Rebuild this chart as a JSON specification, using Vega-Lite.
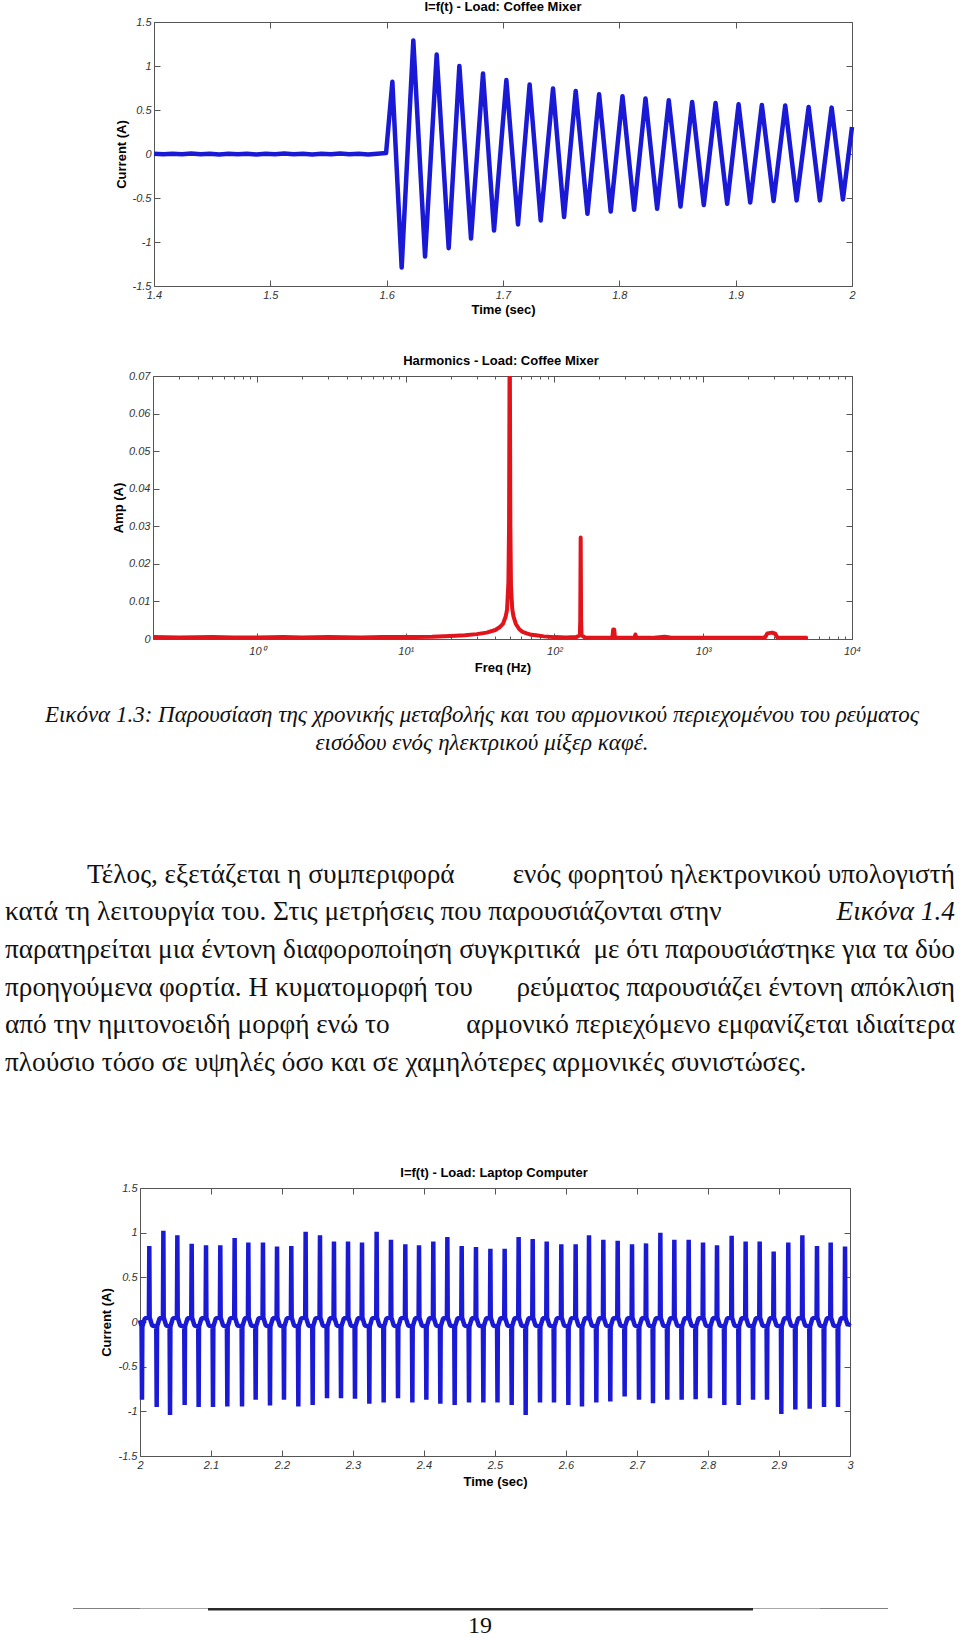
{
"$schema": "https://vega.github.io/schema/vega-lite/v6.json",
"padding": 0,
"spacing": 0,
"bounds": "flush",
"config": {
  "view": {"stroke": null},
  "font": "Liberation Sans",
  "axis": {"grid": false, "labelFont": "Liberation Sans", "labelFontStyle": "italic", "labelFontSize": 11, "labelColor": "#333333", "titleFont": "Liberation Sans", "titleFontWeight": "bold", "titleFontSize": 13, "titleColor": "#000000", "domainColor": "#555555", "tickColor": "#555555", "labelFlush": false, "labelOverlap": false},
  "title": {"font": "Liberation Sans", "fontWeight": "bold", "fontSize": 13, "color": "#000000", "offset": 2, "frame": "group"}
},
"datasets": {
"mixer": [
{"t":1.400,"i":0.003},{"t":1.408,"i":-0.004},{"t":1.416,"i":0.004},{"t":1.424,"i":-0.003},{"t":1.432,"i":0.005},{"t":1.440,"i":-0.004},{"t":1.448,"i":0.002},{"t":1.456,"i":-0.005},{"t":1.464,"i":0.004},{"t":1.472,"i":-0.002},{"t":1.480,"i":0.004},{"t":1.488,"i":-0.005},{"t":1.496,"i":0.003},{"t":1.504,"i":-0.003},{"t":1.512,"i":0.005},{"t":1.520,"i":-0.004},{"t":1.528,"i":0.003},{"t":1.536,"i":-0.005},{"t":1.544,"i":0.004},{"t":1.552,"i":-0.002},{"t":1.560,"i":0.005},{"t":1.568,"i":-0.004},{"t":1.576,"i":0.003},{"t":1.584,"i":-0.005},{"t":1.592,"i":0.004},{"t":1.5995,"i":0.01},
{"t":1.6049,"i":0.82},{"t":1.6129,"i":-1.29},{"t":1.6229,"i":1.29},{"t":1.6330,"i":-1.165},{"t":1.6430,"i":1.13},{"t":1.6533,"i":-1.07},{"t":1.6625,"i":1.0},{"t":1.6725,"i":-0.96},{"t":1.6828,"i":0.915},{"t":1.6923,"i":-0.87},{"t":1.7029,"i":0.84},{"t":1.7129,"i":-0.80},{"t":1.7229,"i":0.79},{"t":1.7324,"i":-0.755},{"t":1.7430,"i":0.744},{"t":1.7525,"i":-0.717},{"t":1.7625,"i":0.717},{"t":1.7726,"i":-0.68},{"t":1.7826,"i":0.68},{"t":1.7926,"i":-0.653},{"t":1.8027,"i":0.657},{"t":1.8127,"i":-0.634},{"t":1.8225,"i":0.63},{"t":1.8325,"i":-0.622},{"t":1.8425,"i":0.61},{"t":1.8526,"i":-0.596},{"t":1.8626,"i":0.59},{"t":1.8726,"i":-0.58},{"t":1.8827,"i":0.58},{"t":1.8927,"i":-0.565},{"t":1.9025,"i":0.565},{"t":1.9125,"i":-0.55},{"t":1.9225,"i":0.558},{"t":1.9326,"i":-0.535},{"t":1.9426,"i":0.55},{"t":1.9524,"i":-0.527},{"t":1.9627,"i":0.535},{"t":1.9724,"i":-0.527},{"t":1.9825,"i":0.527},{"t":1.9922,"i":-0.516},{"t":2.0,"i":0.307}
],
"spectrum": [
{"f":0.2,"a":0.0005},{"f":0.3,"a":0.0004},{"f":0.5,"a":0.0005},{"f":0.7,"a":0.0004},{"f":1,"a":0.0004},{"f":1.5,"a":0.0005},{"f":2,"a":0.0004},{"f":3,"a":0.0005},{"f":5,"a":0.0004},{"f":7,"a":0.0005},{"f":10,"a":0.0005},{"f":15,"a":0.0006},{"f":20,"a":0.0008},{"f":25,"a":0.001},{"f":30,"a":0.0013},{"f":35,"a":0.0017},{"f":40,"a":0.0024},{"f":43,"a":0.0032},{"f":45,"a":0.004},{"f":47,"a":0.006},{"f":48,"a":0.0078},{"f":49,"a":0.015},{"f":49.5,"a":0.03},{"f":50,"a":0.085},{"f":50.5,"a":0.03},{"f":51,"a":0.014},{"f":52,"a":0.008},{"f":53,"a":0.006},{"f":55,"a":0.004},{"f":58,"a":0.0026},{"f":61,"a":0.0019},{"f":65,"a":0.0015},{"f":70,"a":0.0011},{"f":75,"a":0.001},{"f":85,"a":0.0007},{"f":100,"a":0.0005},{"f":120,"a":0.0004},{"f":140,"a":0.0005},{"f":148,"a":0.001},{"f":149,"a":0.005},{"f":150,"a":0.027},{"f":151,"a":0.005},{"f":152,"a":0.001},{"f":160,"a":0.0004},{"f":200,"a":0.0003},{"f":245,"a":0.0004},{"f":248,"a":0.0025},{"f":252,"a":0.0025},{"f":255,"a":0.0004},{"f":300,"a":0.0003},{"f":345,"a":0.0004},{"f":350,"a":0.0012},{"f":355,"a":0.0004},{"f":450,"a":0.0003},{"f":550,"a":0.0006},{"f":600,"a":0.0004},{"f":800,"a":0.0003},{"f":1000,"a":0.0003},{"f":1500,"a":0.0003},{"f":2000,"a":0.0003},{"f":2600,"a":0.0004},{"f":2700,"a":0.0015},{"f":2900,"a":0.0017},{"f":3050,"a":0.0014},{"f":3150,"a":0.0004},{"f":4000,"a":0.0003},{"f":5000,"a":0.0003}
],
"laptop": [
{"t":2.0,"i":0.02},
{"t":2.0022,"i":-0.05},{"t":2.0028,"i":-0.87},{"t":2.0033,"i":-0.05},{"t":2.0068,"i":0.04},
{"t":2.0125,"i":0.05},{"t":2.0131,"i":0.85},{"t":2.0136,"i":0.05},{"t":2.0171,"i":-0.04},
{"t":2.0229,"i":-0.05},{"t":2.0235,"i":-0.95},{"t":2.0240,"i":-0.05},{"t":2.0275,"i":0.04},
{"t":2.0323,"i":0.05},{"t":2.0329,"i":1.02},{"t":2.0334,"i":0.05},{"t":2.0369,"i":-0.04},
{"t":2.0417,"i":-0.05},{"t":2.0423,"i":-1.04},{"t":2.0428,"i":-0.05},{"t":2.0463,"i":0.04},
{"t":2.0520,"i":0.05},{"t":2.0526,"i":0.97},{"t":2.0531,"i":0.05},{"t":2.0566,"i":-0.04},
{"t":2.0623,"i":-0.05},{"t":2.0629,"i":-0.93},{"t":2.0634,"i":-0.05},{"t":2.0669,"i":0.04},
{"t":2.0722,"i":0.05},{"t":2.0728,"i":0.875},{"t":2.0733,"i":0.05},{"t":2.0768,"i":-0.04},
{"t":2.0820,"i":-0.05},{"t":2.0826,"i":-0.95},{"t":2.0831,"i":-0.05},{"t":2.0866,"i":0.04},
{"t":2.0924,"i":0.05},{"t":2.0930,"i":0.86},{"t":2.0935,"i":0.05},{"t":2.0970,"i":-0.04},
{"t":2.1022,"i":-0.05},{"t":2.1028,"i":-0.95},{"t":2.1033,"i":-0.05},{"t":2.1068,"i":0.04},
{"t":2.1125,"i":0.05},{"t":2.1131,"i":0.86},{"t":2.1136,"i":0.05},{"t":2.1171,"i":-0.04},
{"t":2.1224,"i":-0.05},{"t":2.1230,"i":-0.946},{"t":2.1235,"i":-0.05},{"t":2.1270,"i":0.04},
{"t":2.1327,"i":0.05},{"t":2.1333,"i":0.94},{"t":2.1338,"i":0.05},{"t":2.1373,"i":-0.04},
{"t":2.1431,"i":-0.05},{"t":2.1437,"i":-0.946},{"t":2.1442,"i":-0.05},{"t":2.1477,"i":0.04},
{"t":2.1520,"i":0.05},{"t":2.1526,"i":0.89},{"t":2.1531,"i":0.05},{"t":2.1566,"i":-0.04},
{"t":2.1623,"i":-0.05},{"t":2.1629,"i":-0.87},{"t":2.1634,"i":-0.05},{"t":2.1669,"i":0.04},
{"t":2.1726,"i":0.05},{"t":2.1732,"i":0.89},{"t":2.1737,"i":0.05},{"t":2.1772,"i":-0.04},
{"t":2.1825,"i":-0.05},{"t":2.1831,"i":-0.935},{"t":2.1836,"i":-0.05},{"t":2.1871,"i":0.04},
{"t":2.1924,"i":0.05},{"t":2.1930,"i":0.845},{"t":2.1935,"i":0.05},{"t":2.1970,"i":-0.04},
{"t":2.2022,"i":-0.05},{"t":2.2028,"i":-0.87},{"t":2.2033,"i":-0.05},{"t":2.2068,"i":0.04},
{"t":2.2125,"i":0.05},{"t":2.2131,"i":0.85},{"t":2.2136,"i":0.05},{"t":2.2171,"i":-0.04},
{"t":2.2224,"i":-0.05},{"t":2.2230,"i":-0.946},{"t":2.2235,"i":-0.05},{"t":2.2270,"i":0.04},
{"t":2.2327,"i":0.05},{"t":2.2333,"i":1.01},{"t":2.2338,"i":0.05},{"t":2.2373,"i":-0.04},
{"t":2.2426,"i":-0.05},{"t":2.2432,"i":-0.93},{"t":2.2437,"i":-0.05},{"t":2.2472,"i":0.04},
{"t":2.2529,"i":0.05},{"t":2.2535,"i":0.97},{"t":2.2540,"i":0.05},{"t":2.2575,"i":-0.04},
{"t":2.2628,"i":-0.05},{"t":2.2634,"i":-0.853},{"t":2.2639,"i":-0.05},{"t":2.2674,"i":0.04},
{"t":2.2726,"i":0.05},{"t":2.2732,"i":0.9},{"t":2.2737,"i":0.05},{"t":2.2772,"i":-0.04},
{"t":2.2825,"i":-0.05},{"t":2.2831,"i":-0.853},{"t":2.2836,"i":-0.05},{"t":2.2871,"i":0.04},
{"t":2.2924,"i":0.05},{"t":2.2930,"i":0.9},{"t":2.2935,"i":0.05},{"t":2.2970,"i":-0.04},
{"t":2.3022,"i":-0.05},{"t":2.3028,"i":-0.86},{"t":2.3033,"i":-0.05},{"t":2.3068,"i":0.04},
{"t":2.3121,"i":0.05},{"t":2.3127,"i":0.89},{"t":2.3132,"i":0.05},{"t":2.3167,"i":-0.04},
{"t":2.3224,"i":-0.05},{"t":2.3230,"i":-0.916},{"t":2.3235,"i":-0.05},{"t":2.3270,"i":0.04},
{"t":2.3327,"i":0.05},{"t":2.3333,"i":1.01},{"t":2.3338,"i":0.05},{"t":2.3373,"i":-0.04},
{"t":2.3426,"i":-0.05},{"t":2.3432,"i":-0.9},{"t":2.3437,"i":-0.05},{"t":2.3472,"i":0.04},
{"t":2.3529,"i":0.05},{"t":2.3535,"i":0.92},{"t":2.3540,"i":0.05},{"t":2.3575,"i":-0.04},
{"t":2.3628,"i":-0.05},{"t":2.3634,"i":-0.853},{"t":2.3639,"i":-0.05},{"t":2.3674,"i":0.04},
{"t":2.3731,"i":0.05},{"t":2.3737,"i":0.87},{"t":2.3742,"i":0.05},{"t":2.3777,"i":-0.04},
{"t":2.3830,"i":-0.05},{"t":2.3836,"i":-0.9},{"t":2.3841,"i":-0.05},{"t":2.3876,"i":0.04},
{"t":2.3924,"i":0.05},{"t":2.3930,"i":0.86},{"t":2.3935,"i":0.05},{"t":2.3970,"i":-0.04},
{"t":2.4027,"i":-0.05},{"t":2.4033,"i":-0.87},{"t":2.4038,"i":-0.05},{"t":2.4073,"i":0.04},
{"t":2.4125,"i":0.05},{"t":2.4131,"i":0.9},{"t":2.4136,"i":0.05},{"t":2.4171,"i":-0.04},
{"t":2.4224,"i":-0.05},{"t":2.4230,"i":-0.916},{"t":2.4235,"i":-0.05},{"t":2.4270,"i":0.04},
{"t":2.4323,"i":0.05},{"t":2.4329,"i":0.95},{"t":2.4334,"i":0.05},{"t":2.4369,"i":-0.04},
{"t":2.4426,"i":-0.05},{"t":2.4432,"i":-0.93},{"t":2.4437,"i":-0.05},{"t":2.4472,"i":0.04},
{"t":2.4525,"i":0.05},{"t":2.4531,"i":0.85},{"t":2.4536,"i":0.05},{"t":2.4571,"i":-0.04},
{"t":2.4628,"i":-0.05},{"t":2.4634,"i":-0.9},{"t":2.4639,"i":-0.05},{"t":2.4674,"i":0.04},
{"t":2.4726,"i":0.05},{"t":2.4732,"i":0.84},{"t":2.4737,"i":0.05},{"t":2.4772,"i":-0.04},
{"t":2.4830,"i":-0.05},{"t":2.4836,"i":-0.9},{"t":2.4841,"i":-0.05},{"t":2.4876,"i":0.04},
{"t":2.4929,"i":0.05},{"t":2.4935,"i":0.82},{"t":2.4940,"i":0.05},{"t":2.4975,"i":-0.04},
{"t":2.5029,"i":-0.05},{"t":2.5035,"i":-0.9},{"t":2.5040,"i":-0.05},{"t":2.5075,"i":0.04},
{"t":2.5130,"i":0.05},{"t":2.5136,"i":0.82},{"t":2.5141,"i":0.05},{"t":2.5176,"i":-0.04},
{"t":2.5229,"i":-0.05},{"t":2.5235,"i":-0.93},{"t":2.5240,"i":-0.05},{"t":2.5275,"i":0.04},
{"t":2.5327,"i":0.05},{"t":2.5333,"i":0.95},{"t":2.5338,"i":0.05},{"t":2.5373,"i":-0.04},
{"t":2.5426,"i":-0.05},{"t":2.5432,"i":-1.04},{"t":2.5437,"i":-0.05},{"t":2.5472,"i":0.04},
{"t":2.5525,"i":0.05},{"t":2.5531,"i":0.93},{"t":2.5536,"i":0.05},{"t":2.5571,"i":-0.04},
{"t":2.5628,"i":-0.05},{"t":2.5634,"i":-0.9},{"t":2.5639,"i":-0.05},{"t":2.5674,"i":0.04},
{"t":2.5722,"i":0.05},{"t":2.5728,"i":0.9},{"t":2.5733,"i":0.05},{"t":2.5768,"i":-0.04},
{"t":2.5825,"i":-0.05},{"t":2.5831,"i":-0.9},{"t":2.5836,"i":-0.05},{"t":2.5871,"i":0.04},
{"t":2.5928,"i":0.05},{"t":2.5934,"i":0.87},{"t":2.5939,"i":0.05},{"t":2.5974,"i":-0.04},
{"t":2.6027,"i":-0.05},{"t":2.6033,"i":-0.93},{"t":2.6038,"i":-0.05},{"t":2.6073,"i":0.04},
{"t":2.6130,"i":0.05},{"t":2.6136,"i":0.87},{"t":2.6141,"i":0.05},{"t":2.6176,"i":-0.04},
{"t":2.6219,"i":-0.05},{"t":2.6225,"i":-0.946},{"t":2.6230,"i":-0.05},{"t":2.6265,"i":0.04},
{"t":2.6318,"i":0.05},{"t":2.6324,"i":0.97},{"t":2.6329,"i":0.05},{"t":2.6364,"i":-0.04},
{"t":2.6421,"i":-0.05},{"t":2.6427,"i":-0.9},{"t":2.6432,"i":-0.05},{"t":2.6467,"i":0.04},
{"t":2.6520,"i":0.05},{"t":2.6526,"i":0.92},{"t":2.6531,"i":0.05},{"t":2.6566,"i":-0.04},
{"t":2.6618,"i":-0.05},{"t":2.6624,"i":-0.89},{"t":2.6629,"i":-0.05},{"t":2.6664,"i":0.04},
{"t":2.6722,"i":0.05},{"t":2.6728,"i":0.91},{"t":2.6733,"i":0.05},{"t":2.6768,"i":-0.04},
{"t":2.6820,"i":-0.05},{"t":2.6826,"i":-0.834},{"t":2.6831,"i":-0.05},{"t":2.6866,"i":0.04},
{"t":2.6924,"i":0.05},{"t":2.6930,"i":0.87},{"t":2.6935,"i":0.05},{"t":2.6970,"i":-0.04},
{"t":2.7022,"i":-0.05},{"t":2.7028,"i":-0.87},{"t":2.7033,"i":-0.05},{"t":2.7068,"i":0.04},
{"t":2.7121,"i":0.05},{"t":2.7127,"i":0.88},{"t":2.7132,"i":0.05},{"t":2.7167,"i":-0.04},
{"t":2.7219,"i":-0.05},{"t":2.7225,"i":-0.91},{"t":2.7230,"i":-0.05},{"t":2.7265,"i":0.04},
{"t":2.7323,"i":0.05},{"t":2.7329,"i":1.0},{"t":2.7334,"i":0.05},{"t":2.7369,"i":-0.04},
{"t":2.7421,"i":-0.05},{"t":2.7427,"i":-0.87},{"t":2.7432,"i":-0.05},{"t":2.7467,"i":0.04},
{"t":2.7520,"i":0.05},{"t":2.7526,"i":0.92},{"t":2.7531,"i":0.05},{"t":2.7566,"i":-0.04},
{"t":2.7623,"i":-0.05},{"t":2.7629,"i":-0.87},{"t":2.7634,"i":-0.05},{"t":2.7669,"i":0.04},
{"t":2.7722,"i":0.05},{"t":2.7728,"i":0.92},{"t":2.7733,"i":0.05},{"t":2.7768,"i":-0.04},
{"t":2.7820,"i":-0.05},{"t":2.7826,"i":-0.864},{"t":2.7831,"i":-0.05},{"t":2.7866,"i":0.04},
{"t":2.7924,"i":0.05},{"t":2.7930,"i":0.89},{"t":2.7935,"i":0.05},{"t":2.7970,"i":-0.04},
{"t":2.8022,"i":-0.05},{"t":2.8028,"i":-0.853},{"t":2.8033,"i":-0.05},{"t":2.8068,"i":0.04},
{"t":2.8121,"i":0.05},{"t":2.8127,"i":0.86},{"t":2.8132,"i":0.05},{"t":2.8167,"i":-0.04},
{"t":2.8224,"i":-0.05},{"t":2.8230,"i":-0.93},{"t":2.8235,"i":-0.05},{"t":2.8270,"i":0.04},
{"t":2.8327,"i":0.05},{"t":2.8333,"i":0.965},{"t":2.8338,"i":0.05},{"t":2.8373,"i":-0.04},
{"t":2.8426,"i":-0.05},{"t":2.8432,"i":-0.93},{"t":2.8437,"i":-0.05},{"t":2.8472,"i":0.04},
{"t":2.8524,"i":0.05},{"t":2.8530,"i":0.9},{"t":2.8535,"i":0.05},{"t":2.8570,"i":-0.04},
{"t":2.8628,"i":-0.05},{"t":2.8634,"i":-0.87},{"t":2.8639,"i":-0.05},{"t":2.8674,"i":0.04},
{"t":2.8722,"i":0.05},{"t":2.8728,"i":0.9},{"t":2.8733,"i":0.05},{"t":2.8768,"i":-0.04},
{"t":2.8825,"i":-0.05},{"t":2.8831,"i":-0.87},{"t":2.8836,"i":-0.05},{"t":2.8871,"i":0.04},
{"t":2.8919,"i":0.05},{"t":2.8925,"i":0.79},{"t":2.8930,"i":0.05},{"t":2.8965,"i":-0.04},
{"t":2.9027,"i":-0.05},{"t":2.9033,"i":-1.03},{"t":2.9038,"i":-0.05},{"t":2.9073,"i":0.04},
{"t":2.9125,"i":0.05},{"t":2.9131,"i":0.89},{"t":2.9136,"i":0.05},{"t":2.9171,"i":-0.04},
{"t":2.9224,"i":-0.05},{"t":2.9230,"i":-0.98},{"t":2.9235,"i":-0.05},{"t":2.9270,"i":0.04},
{"t":2.9323,"i":0.05},{"t":2.9329,"i":0.97},{"t":2.9334,"i":0.05},{"t":2.9369,"i":-0.04},
{"t":2.9426,"i":-0.05},{"t":2.9432,"i":-0.97},{"t":2.9437,"i":-0.05},{"t":2.9472,"i":0.04},
{"t":2.9529,"i":0.05},{"t":2.9535,"i":0.85},{"t":2.9540,"i":0.05},{"t":2.9575,"i":-0.04},
{"t":2.9628,"i":-0.05},{"t":2.9634,"i":-0.95},{"t":2.9639,"i":-0.05},{"t":2.9674,"i":0.04},
{"t":2.9722,"i":0.05},{"t":2.9728,"i":0.89},{"t":2.9733,"i":0.05},{"t":2.9768,"i":-0.04},
{"t":2.9825,"i":-0.05},{"t":2.9831,"i":-0.95},{"t":2.9836,"i":-0.05},{"t":2.9871,"i":0.04},
{"t":2.9924,"i":0.05},{"t":2.9930,"i":0.845},{"t":2.9935,"i":0.05},{"t":2.9970,"i":-0.04},
{"t":3.0,"i":-0.01}
]
},
"vconcat": [
{"width": 1, "height": 22, "data": {"values": []}, "mark": "point"},
{
  "width": 852, "height": 264,
  "title": {"text": "I=f(t) - Load: Coffee Mixer", "dx": 77},
  "layer": [
    {"data": {"name": "mixer"},
     "mark": {"type": "line", "color": "#1a1ad6", "strokeWidth": 4.5, "strokeJoin": "round"},
     "encoding": {
       "x": {"field": "t", "type": "quantitative", "scale": {"domain": [1.4, 2], "range": [154, 852], "nice": false, "zero": false},
             "axis": {"orient": "bottom", "values": [1.4, 1.5, 1.6, 1.7, 1.8, 1.9, 2], "labelExpr": "'' + datum.value", "ticks": false, "labelPadding": 3, "title": "Time (sec)", "titleY": 23, "titleBaseline": "middle"}},
       "y": {"field": "i", "type": "quantitative", "scale": {"domain": [-1.5, 1.5], "nice": false, "zero": false},
             "axis": {"orient": "left", "offset": -154, "values": [-1.5, -1, -0.5, 0, 0.5, 1, 1.5], "labelExpr": "'' + datum.value", "ticks": false, "labelPadding": 3, "title": "Current (A)", "titleX": -33, "titleBaseline": "middle"}}
     }},
    {"data": {"values": []}, "mark": "point",
     "encoding": {
       "x": {"field": "t", "type": "quantitative", "scale": {"domain": [1.4, 2], "range": [154, 852], "nice": false, "zero": false},
             "axis": {"orient": "top", "values": [1.4, 1.5, 1.6, 1.7, 1.8, 1.9, 2], "labels": false, "tickSize": -6, "title": null}},
       "y": {"field": "i", "type": "quantitative", "scale": {"domain": [-1.5, 1.5], "nice": false, "zero": false},
             "axis": {"orient": "right", "values": [-1.5, -1, -0.5, 0, 0.5, 1, 1.5], "labels": false, "tickSize": -6, "title": null}}
     }},
    {"data": {"values": []}, "mark": "point",
     "encoding": {
       "x": {"field": "t", "type": "quantitative", "scale": {"domain": [1.4, 2], "range": [154, 852], "nice": false, "zero": false},
             "axis": {"orient": "bottom", "values": [1.4, 1.5, 1.6, 1.7, 1.8, 1.9, 2], "labels": false, "domain": false, "tickSize": -6, "title": null}},
       "y": {"field": "i", "type": "quantitative", "scale": {"domain": [-1.5, 1.5], "nice": false, "zero": false},
             "axis": {"orient": "left", "offset": -154, "values": [-1.5, -1, -0.5, 0, 0.5, 1, 1.5], "labels": false, "domain": false, "tickSize": -6, "title": null}}
     }}
  ],
  "resolve": {"axis": {"x": "independent", "y": "independent"}}
},
{"width": 1, "height": 90, "data": {"values": []}, "mark": "point"},
{
  "width": 852, "height": 263,
  "title": {"text": "Harmonics - Load: Coffee Mixer", "dx": 75},
  "layer": [
    {"data": {"name": "spectrum"},
     "mark": {"type": "line", "color": "#e0141a", "strokeWidth": 4, "strokeJoin": "round", "clip": true},
     "encoding": {
       "x": {"field": "f", "type": "quantitative", "scale": {"type": "log", "domain": [0.2, 10000], "range": [153, 852], "nice": false},
             "axis": {"orient": "bottom", "values": [1, 10, 100, 1000, 10000], "labelExpr": "datum.value == 1 ? '10⁰' : datum.value == 10 ? '10¹' : datum.value == 100 ? '10²' : datum.value == 1000 ? '10³' : '10⁴'", "ticks": false, "labelPadding": 6, "title": "Freq (Hz)", "titleY": 28, "titleBaseline": "middle"}},
       "y": {"field": "a", "type": "quantitative", "scale": {"domain": [0, 0.07], "nice": false, "zero": false},
             "axis": {"orient": "left", "offset": -153, "values": [0, 0.01, 0.02, 0.03, 0.04, 0.05, 0.06, 0.07], "labelExpr": "'' + datum.value", "ticks": false, "labelPadding": 3, "title": "Amp (A)", "titleX": -35, "titleBaseline": "middle"}}
     }},
    {"data": {"values": []}, "mark": "point",
     "encoding": {
       "x": {"field": "f", "type": "quantitative", "scale": {"type": "log", "domain": [0.2, 10000], "range": [153, 852], "nice": false},
             "axis": {"orient": "top", "values": [1, 10, 100, 1000, 10000], "labels": false, "tickSize": -6, "title": null}},
       "y": {"field": "a", "type": "quantitative", "scale": {"domain": [0, 0.07], "nice": false, "zero": false},
             "axis": {"orient": "right", "values": [0, 0.01, 0.02, 0.03, 0.04, 0.05, 0.06, 0.07], "labels": false, "tickSize": -6, "title": null}}
     }},
    {"data": {"values": []}, "mark": "point",
     "encoding": {
       "x": {"field": "f", "type": "quantitative", "scale": {"type": "log", "domain": [0.2, 10000], "range": [153, 852], "nice": false},
             "axis": {"orient": "bottom", "values": [1, 10, 100, 1000, 10000], "labels": false, "domain": false, "tickSize": -6, "title": null}},
       "y": {"field": "a", "type": "quantitative", "scale": {"domain": [0, 0.07], "nice": false, "zero": false},
             "axis": {"orient": "left", "offset": -153, "values": [0, 0.01, 0.02, 0.03, 0.04, 0.05, 0.06, 0.07], "labels": false, "domain": false, "tickSize": -6, "title": null}}
     }},
    {"data": {"values": []}, "mark": "point",
     "encoding": {
       "x": {"field": "f", "type": "quantitative", "scale": {"type": "log", "domain": [0.2, 10000], "range": [153, 852], "nice": false},
             "axis": {"orient": "bottom", "values": [0.3, 0.4, 0.5, 0.6, 0.7, 0.8, 0.9, 2, 3, 4, 5, 6, 7, 8, 9, 20, 30, 40, 50, 60, 70, 80, 90, 200, 300, 400, 500, 600, 700, 800, 900, 2000, 3000, 4000, 5000, 6000, 7000, 8000, 9000], "labels": false, "domain": false, "tickSize": -3, "title": null}},
       "y": {"field": "a", "type": "quantitative", "scale": {"domain": [0, 0.07], "nice": false, "zero": false}, "axis": null}
     }},
    {"data": {"values": []}, "mark": "point",
     "encoding": {
       "x": {"field": "f", "type": "quantitative", "scale": {"type": "log", "domain": [0.2, 10000], "range": [153, 852], "nice": false},
             "axis": {"orient": "top", "values": [0.3, 0.4, 0.5, 0.6, 0.7, 0.8, 0.9, 2, 3, 4, 5, 6, 7, 8, 9, 20, 30, 40, 50, 60, 70, 80, 90, 200, 300, 400, 500, 600, 700, 800, 900, 2000, 3000, 4000, 5000, 6000, 7000, 8000, 9000], "labels": false, "domain": false, "tickSize": -3, "title": null}},
       "y": {"field": "a", "type": "quantitative", "scale": {"domain": [0, 0.07], "nice": false, "zero": false}, "axis": null}
     }}
  ],
  "resolve": {"axis": {"x": "independent", "y": "independent"}}
},
{"width": 1, "height": 69, "data": {"values": []}, "mark": "point"},
{
  "width": 960, "height": 56,
  "data": {"values": [
    {"line": 1, "text": "Εικόνα 1.3: Παρουσίαση της χρονικής μεταβολής και του αρμονικού περιεχομένου του ρεύματος"},
    {"line": 2, "text": "εισόδου ενός ηλεκτρικού μίξερ καφέ."}
  ]},
  "mark": {"type": "text", "font": "Liberation Serif", "fontStyle": "italic", "fontSize": 23, "baseline": "alphabetic", "align": "center", "dx": 2, "color": "#111111"},
  "encoding": {
    "y": {"field": "line", "type": "quantitative", "scale": {"domain": [0.5, 2.5], "reverse": true}, "axis": null},
    "text": {"field": "text"}
  }
},
{"width": 1, "height": 100, "data": {"values": []}, "mark": "point"},
{
  "width": 960, "height": 225.6,
  "data": {"values": [
    {"line": 1, "ind": "Τέλος, εξετάζεται η συμπεριφορά", "left": "", "right": "ενός φορητού ηλεκτρονικού υπολογιστή", "ital": ""},
    {"line": 2, "ind": "", "left": "κατά τη λειτουργία του. Στις μετρήσεις που παρουσιάζονται στην", "right": "", "ital": "Εικόνα 1.4"},
    {"line": 3, "ind": "", "left": "παρατηρείται μια έντονη διαφοροποίηση συγκριτικά", "right": "με ότι παρουσιάστηκε για τα δύο", "ital": ""},
    {"line": 4, "ind": "", "left": "προηγούμενα φορτία. Η κυματομορφή του", "right": "ρεύματος παρουσιάζει έντονη απόκλιση", "ital": ""},
    {"line": 5, "ind": "", "left": "από την ημιτονοειδή μορφή ενώ το", "right": "αρμονικό περιεχόμενο εμφανίζεται ιδιαίτερα", "ital": ""},
    {"line": 6, "ind": "", "left": "πλούσιο τόσο σε υψηλές όσο και σε χαμηλότερες αρμονικές συνιστώσες.", "right": "", "ital": ""}
  ]},
  "encoding": {
    "y": {"field": "line", "type": "quantitative", "scale": {"domain": [0.5, 6.5], "reverse": true}, "axis": null}
  },
  "layer": [
    {"mark": {"type": "text", "font": "Liberation Serif", "fontSize": 27.3, "baseline": "alphabetic", "align": "left", "color": "#111111"},
     "encoding": {"x": {"datum": 0.0863, "type": "quantitative", "scale": {"domain": [0, 1], "range": [5, 955]}, "axis": null}, "text": {"field": "ind"}}},
    {"mark": {"type": "text", "font": "Liberation Serif", "fontSize": 27.3, "baseline": "alphabetic", "align": "left", "color": "#111111"},
     "encoding": {"x": {"datum": 0, "type": "quantitative", "scale": {"domain": [0, 1], "range": [5, 955]}, "axis": null}, "text": {"field": "left"}}},
    {"mark": {"type": "text", "font": "Liberation Serif", "fontSize": 27.3, "baseline": "alphabetic", "align": "right", "color": "#111111"},
     "encoding": {"x": {"datum": 1, "type": "quantitative", "scale": {"domain": [0, 1], "range": [5, 955]}, "axis": null}, "text": {"field": "right"}}},
    {"mark": {"type": "text", "font": "Liberation Serif", "fontStyle": "italic", "fontSize": 27.3, "baseline": "alphabetic", "align": "right", "color": "#111111"},
     "encoding": {"x": {"datum": 1, "type": "quantitative", "scale": {"domain": [0, 1], "range": [5, 955]}, "axis": null}, "text": {"field": "ital"}}}
  ]
},
{"width": 1, "height": 97.4, "data": {"values": []}, "mark": "point"},
{
  "width": 850, "height": 268,
  "title": {"text": "I=f(t) - Load: Laptop Computer", "dx": 69},
  "layer": [
    {"data": {"name": "laptop"},
     "mark": {"type": "line", "color": "#1a1ad6", "strokeWidth": 4.5, "strokeJoin": "bevel"},
     "encoding": {
       "x": {"field": "t", "type": "quantitative", "scale": {"domain": [2, 3], "range": [140, 850], "nice": false, "zero": false},
             "axis": {"orient": "bottom", "values": [2, 2.1, 2.2, 2.3, 2.4, 2.5, 2.6, 2.7, 2.8, 2.9, 3], "labelExpr": "'' + datum.value", "ticks": false, "labelPadding": 3, "title": "Time (sec)", "titleY": 25, "titleBaseline": "middle"}},
       "y": {"field": "i", "type": "quantitative", "scale": {"domain": [-1.5, 1.5], "nice": false, "zero": false},
             "axis": {"orient": "left", "offset": -140, "values": [-1.5, -1, -0.5, 0, 0.5, 1, 1.5], "labelExpr": "'' + datum.value", "ticks": false, "labelPadding": 3, "title": "Current (A)", "titleX": -34, "titleBaseline": "middle"}}
     }},
    {"data": {"values": []}, "mark": "point",
     "encoding": {
       "x": {"field": "t", "type": "quantitative", "scale": {"domain": [2, 3], "range": [140, 850], "nice": false, "zero": false},
             "axis": {"orient": "top", "values": [2, 2.1, 2.2, 2.3, 2.4, 2.5, 2.6, 2.7, 2.8, 2.9, 3], "labels": false, "tickSize": -6, "title": null}},
       "y": {"field": "i", "type": "quantitative", "scale": {"domain": [-1.5, 1.5], "nice": false, "zero": false},
             "axis": {"orient": "right", "values": [-1.5, -1, -0.5, 0, 0.5, 1, 1.5], "labels": false, "tickSize": -6, "title": null}}
     }},
    {"data": {"values": []}, "mark": "point",
     "encoding": {
       "x": {"field": "t", "type": "quantitative", "scale": {"domain": [2, 3], "range": [140, 850], "nice": false, "zero": false},
             "axis": {"orient": "bottom", "values": [2, 2.1, 2.2, 2.3, 2.4, 2.5, 2.6, 2.7, 2.8, 2.9, 3], "labels": false, "domain": false, "tickSize": -6, "title": null}},
       "y": {"field": "i", "type": "quantitative", "scale": {"domain": [-1.5, 1.5], "nice": false, "zero": false},
             "axis": {"orient": "left", "offset": -140, "values": [-1.5, -1, -0.5, 0, 0.5, 1, 1.5], "labels": false, "domain": false, "tickSize": -6, "title": null}}
     }}
  ],
  "resolve": {"axis": {"x": "independent", "y": "independent"}}
},
{"width": 1, "height": 152, "data": {"values": []}, "mark": "point"},
{
  "width": 960, "height": 1,
  "data": {"values": [{}]},
  "layer": [
    {"mark": {"type": "rect", "color": "#808080"},
     "encoding": {"x": {"datum": 73, "type": "quantitative", "scale": {"domain": [0, 960], "range": [0, 960]}, "axis": null}, "x2": {"datum": 888}}},
    {"mark": {"type": "rect", "color": "#a8a8a8"},
     "encoding": {"x": {"datum": 140, "type": "quantitative", "scale": {"domain": [0, 960], "range": [0, 960]}, "axis": null}, "x2": {"datum": 820}}},
    {"mark": {"type": "rect", "color": "#2a2a2a"},
     "encoding": {"x": {"datum": 208, "type": "quantitative", "scale": {"domain": [0, 960], "range": [0, 960]}, "axis": null}, "x2": {"datum": 753}}}
  ]
},
{
  "width": 960, "height": 1.5,
  "data": {"values": [{}]},
  "mark": {"type": "rect", "color": "#2a2a2a"},
  "encoding": {"x": {"datum": 208, "type": "quantitative", "scale": {"domain": [0, 960], "range": [0, 960]}, "axis": null}, "x2": {"datum": 753}}
},
{
  "width": 960, "height": 28,
  "data": {"values": [{"page": "19"}]},
  "mark": {"type": "text", "font": "Liberation Serif", "fontSize": 24, "dy": 1, "color": "#111111"},
  "encoding": {"text": {"field": "page"}}
}
]
}
